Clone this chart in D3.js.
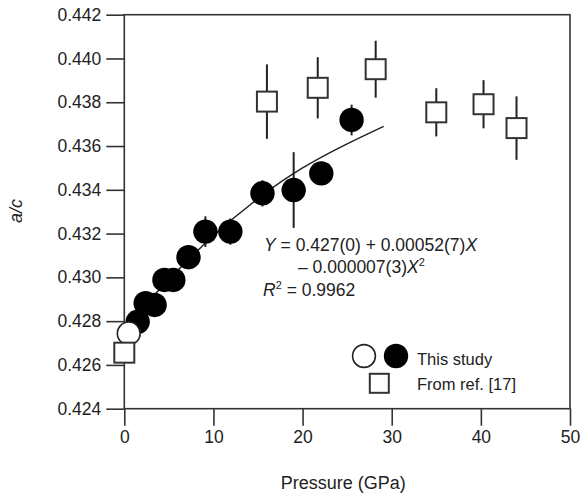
<!DOCTYPE html>
<html>
<head>
<meta charset="utf-8">
<script src="https://cdn.jsdelivr.net/npm/d3@7"></script>
<style>
  body { margin: 0; background: #fff; }
  svg text { font-family: "Liberation Sans", Arial, sans-serif; fill: #222; }
</style>
</head>
<body>
<div id="chart"></div>
<script>
// this study, filled symbols
const studyP = [1.5, 2.4, 3.4, 4.5, 5.5, 7.2, 9.1, 11.9, 15.5, 19.0, 22.1, 25.5];
const studyAC = [0.42797, 0.42882, 0.42874, 0.42988, 0.42988, 0.43092, 0.43209, 0.43209, 0.43384, 0.43399, 0.43475, 0.43719];
const studyErr = [0, 0, 0, 0, 0, 0, 0.0007, 0.0006, 0.0006, 0.00173, 0, 0.0007];

// this study, ambient (open circle)
const ambientP = [0.5];
const ambientAC = [0.42744];

// ref. [17], open squares
const refP = [0, 16.0, 21.7, 28.2, 35.0, 40.3, 44.0];
const refAC = [0.42656, 0.43803, 0.43866, 0.43951, 0.43754, 0.43791, 0.43682];
const refErr = [0, 0.0017, 0.0014, 0.0013, 0.0011, 0.0011, 0.00145];

// fitted curve
const fitP = [0, 5, 10, 15, 20, 25, 29.1];
const fitAC = [0.4277, 0.4299, 0.4319, 0.4336, 0.4350, 0.4361, 0.4369];

const xTicks = [0, 10, 20, 30, 40, 50];
const yTicks = [0.424, 0.426, 0.428, 0.430, 0.432, 0.434, 0.436, 0.438, 0.440, 0.442];
const legendLabels = ['This study', 'From ref. [17]'];

const width = 581, height = 497;
const margin = { top: 14.7, right: 11, bottom: 88.3, left: 124.3 };

const svg = d3.select('#chart').append('svg')
    .attr('width', width)
    .attr('height', height);

const x = d3.scaleLinear().domain([0, 50]).range([margin.left, width - margin.right]);
const y = d3.scaleLinear().domain([0.424, 0.442]).range([height - margin.bottom, margin.top]);

const axisColor = '#333';

// frame
svg.append('rect')
    .attr('x', x(0)).attr('y', y(0.442))
    .attr('width', x(50) - x(0)).attr('height', y(0.424) - y(0.442))
    .attr('fill', 'none').attr('stroke', axisColor).attr('stroke-width', 1.6);

const xAxis = svg.append('g')
    .attr('transform', `translate(0,${y(0.424)})`)
    .call(d3.axisBottom(x).tickValues(xTicks).tickSize(17).tickPadding(5).tickFormat(d3.format('d')));
xAxis.select('.domain').remove();

const yAxis = svg.append('g')
    .attr('transform', `translate(${x(0)},0)`)
    .call(d3.axisLeft(y).tickValues(yTicks).tickSize(18).tickPadding(5).tickFormat(d3.format('.3f')));
yAxis.select('.domain').remove();

[xAxis, yAxis].forEach(g => {
    g.selectAll('line').attr('stroke', axisColor).attr('stroke-width', 1.6);
    g.selectAll('text').attr('font-size', 17.5).attr('fill', '#222')
        .style('font-family', '"Liberation Sans", Arial, sans-serif');
});

// axis titles
svg.append('text')
    .attr('x', (x(0) + x(50)) / 2 - 4).attr('y', 489)
    .attr('text-anchor', 'middle').attr('font-size', 18)
    .text('Pressure (GPa)');

svg.append('text')
    .attr('transform', 'translate(22,211) rotate(-90)')
    .attr('text-anchor', 'middle').attr('font-size', 18).attr('font-style', 'italic')
    .text('a/c');

// fit curve
const line = d3.line().x(d => x(d[0])).y(d => y(d[1])).curve(d3.curveNatural);
svg.append('path')
    .datum(fitP.map((p, i) => [p, fitAC[i]]))
    .attr('d', line)
    .attr('fill', 'none').attr('stroke', '#222').attr('stroke-width', 1.5);

// error bars
const errData = [
    ...studyP.map((p, i) => ({ p, v: studyAC[i], e: studyErr[i] })),
    ...refP.map((p, i) => ({ p, v: refAC[i], e: refErr[i] }))
].filter(d => d.e > 0);

svg.append('g').selectAll('line')
    .data(errData)
    .join('line')
    .attr('x1', d => x(d.p)).attr('x2', d => x(d.p))
    .attr('y1', d => y(d.v + d.e)).attr('y2', d => y(d.v - d.e))
    .attr('stroke', '#222').attr('stroke-width', 2);

const r = 12.2;
const sq = 20;

svg.append('g').selectAll('circle')
    .data(studyP.map((p, i) => ({ p, v: studyAC[i] })))
    .join('circle')
    .attr('cx', d => x(d.p)).attr('cy', d => y(d.v))
    .attr('r', r).attr('fill', '#000');

svg.append('g').selectAll('circle')
    .data(ambientP.map((p, i) => ({ p, v: ambientAC[i] })))
    .join('circle')
    .attr('cx', d => x(d.p)).attr('cy', d => y(d.v))
    .attr('r', r - 0.8).attr('fill', '#fff').attr('stroke', '#222').attr('stroke-width', 1.6);

svg.append('g').selectAll('rect')
    .data(refP.map((p, i) => ({ p, v: refAC[i] })))
    .join('rect')
    .attr('x', d => x(d.p) - sq / 2).attr('y', d => y(d.v) - sq / 2)
    .attr('width', sq).attr('height', sq)
    .attr('fill', '#fff').attr('stroke', '#333').attr('stroke-width', 2);

// equation text
const eq = svg.append('g').attr('font-size', 17.5);
const t1 = eq.append('text').attr('x', 264).attr('y', 251);
t1.append('tspan').attr('font-style', 'italic').text('Y');
t1.append('tspan').text(' = 0.427(0) + 0.00052(7)');
t1.append('tspan').attr('font-style', 'italic').text('X');

const t2 = eq.append('text').attr('x', 298).attr('y', 273);
t2.append('tspan').text('\u2013 0.000007(3)');
t2.append('tspan').attr('font-style', 'italic').text('X');
t2.append('tspan').attr('font-size', 11).attr('dy', -7).text('2');

const t3 = eq.append('text').attr('x', 263).attr('y', 296);
t3.append('tspan').attr('font-style', 'italic').text('R');
t3.append('tspan').attr('font-size', 11).attr('dy', -7).text('2');
t3.append('tspan').attr('dy', 7).text(' = 0.9962');

// legend
const lg = svg.append('g');
lg.append('circle').attr('cx', 364).attr('cy', 356).attr('r', r - 0.8)
    .attr('fill', '#fff').attr('stroke', '#222').attr('stroke-width', 1.6);
lg.append('circle').attr('cx', 396).attr('cy', 356).attr('r', r).attr('fill', '#000');
lg.append('rect').attr('x', 379.3 - 9.5).attr('y', 383.3 - 9.5).attr('width', 19).attr('height', 19)
    .attr('fill', '#fff').attr('stroke', '#333').attr('stroke-width', 2);
lg.selectAll('text')
    .data(legendLabels)
    .join('text')
    .attr('x', 417).attr('y', (d, i) => 365 + i * 25)
    .attr('font-size', 16.5)
    .text(d => d);
</script>
</body>
</html>
